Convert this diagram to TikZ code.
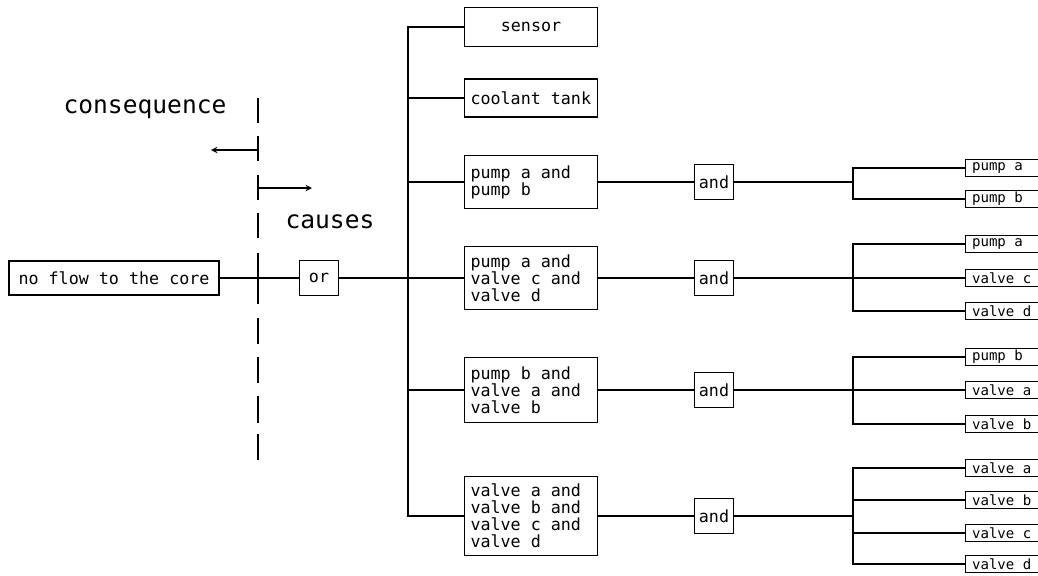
\documentclass[tikz,border=0pt]{standalone}
\usepackage{fontspec}
\setmonofont{DejaVu Sans Mono}
\usetikzlibrary{positioning}

\begin{document}
\begin{tikzpicture}[
    x=0.02cm,y=-0.02cm,
    line width=0.65pt,>=stealth,
    every node/.style={font=\ttfamily\fontsize{9.5}{9.6}\selectfont,
      execute at begin node={\spaceskip=\fontcharwd\font`x\relax}},
    eventbox/.style={rectangle,draw,inner sep=0pt,minimum width=42mm,minimum height=6.8mm},
    gatebox/.style={rectangle,draw,inner sep=0pt,minimum width=7.8mm,minimum height=7mm},
    causebox/.style={rectangle,draw,align=left,inner xsep=1.2mm,inner ysep=0pt,text width=24.2mm},
    leafbox/.style={rectangle,draw,align=left,inner xsep=1.3mm,inner ysep=0pt,text width=15mm,minimum height=3.4mm,anchor=west,
      font=\ttfamily\fontsize{8}{9}\selectfont},
    bigtext/.style={font=\ttfamily\fontsize{14}{16}\selectfont},
    cutline/.style={dash pattern=on 5mm off 2.7mm on 5mm off 2.7mm on 5mm off 2.7mm on 5mm off 2.9mm on 10.2mm off 2.8mm on 5.2mm off 2.6mm on 5.2mm off 2.6mm on 5.4mm off 2.2mm on 5.4mm off 5mm}
    ]

    \useasboundingbox (0,0) rectangle (1038,575);

    \node (flow) [eventbox] at (114,278) {no flow to the core};
    \node (or) [gatebox] at (319,278) {or};

    \node (conseq) [bigtext] at (145,109) {consequence};
    \node (causes) [bigtext] at (330,222) {causes};

    \coordinate (dtop) at (258,98);
    \coordinate (dbot) at (258,460);
    \draw[cutline] (dtop) -- (dbot);

    \coordinate (cl0) at (258,150);
    \coordinate (cl1) at (211,150);
    \coordinate (cr0) at (258,188);
    \coordinate (cr1) at (312,188);
    \draw[->] (cl0) -- (cl1);
    \draw[->] (cr0) -- (cr1);

    \node (sensor) [causebox,align=center,minimum height=7.8mm] at (531,27) {sensor};
    \node (tank) [causebox,minimum height=7.6mm] at (531,98) {coolant tank};
    \node (cause1) [causebox,minimum height=10.6mm] at (531,182) {pump a and\\pump b};
    \node (cause2) [causebox,minimum height=12.6mm] at (531,278) {pump a and\\valve c and\\valve d};
    \node (cause3) [causebox,minimum height=13mm] at (531,390) {pump b and\\valve a and\\valve b};
    \node (cause4) [causebox,minimum height=15.8mm] at (531,516) {valve a and\\valve b and\\valve c and\\valve d};

    \foreach \y [count=\i] in {182,278,390,516}
      \node (and\i) [gatebox] at (714,\y) {and};

    \foreach \t/\y [count=\k] in {pump a/168,pump b/199}
      \node (l1\k) [leafbox] at (965,\y) {\t};
    \foreach \t/\y [count=\k] in {pump a/244,valve c/278,valve d/311}
      \node (l2\k) [leafbox] at (965,\y) {\t};
    \foreach \t/\y [count=\k] in {pump b/357,valve a/390,valve b/424}
      \node (l3\k) [leafbox] at (965,\y) {\t};
    \foreach \t/\y [count=\k] in {valve a/468,valve b/500,valve c/533,valve d/564}
      \node (l4\k) [leafbox] at (965,\y) {\t};

    \draw (flow) -- (or);
    \draw (or) -- (cause2);

    \coordinate (trunk) at (408,278);
    \foreach \c in {sensor,tank,cause1,cause3,cause4}
      \draw (trunk) |- (\c.west);

    \foreach \i in {1,...,4} {
      \path (and\i) ++(139,0) coordinate (j\i);
      \draw (cause\i) -- (and\i) -- (j\i);
    }

    \foreach \i/\n in {1/2,2/3,3/3,4/4}
      \foreach \k in {1,...,\n}
        \draw (j\i) |- (l\i\k.west);

  \end{tikzpicture}
\end{document}
